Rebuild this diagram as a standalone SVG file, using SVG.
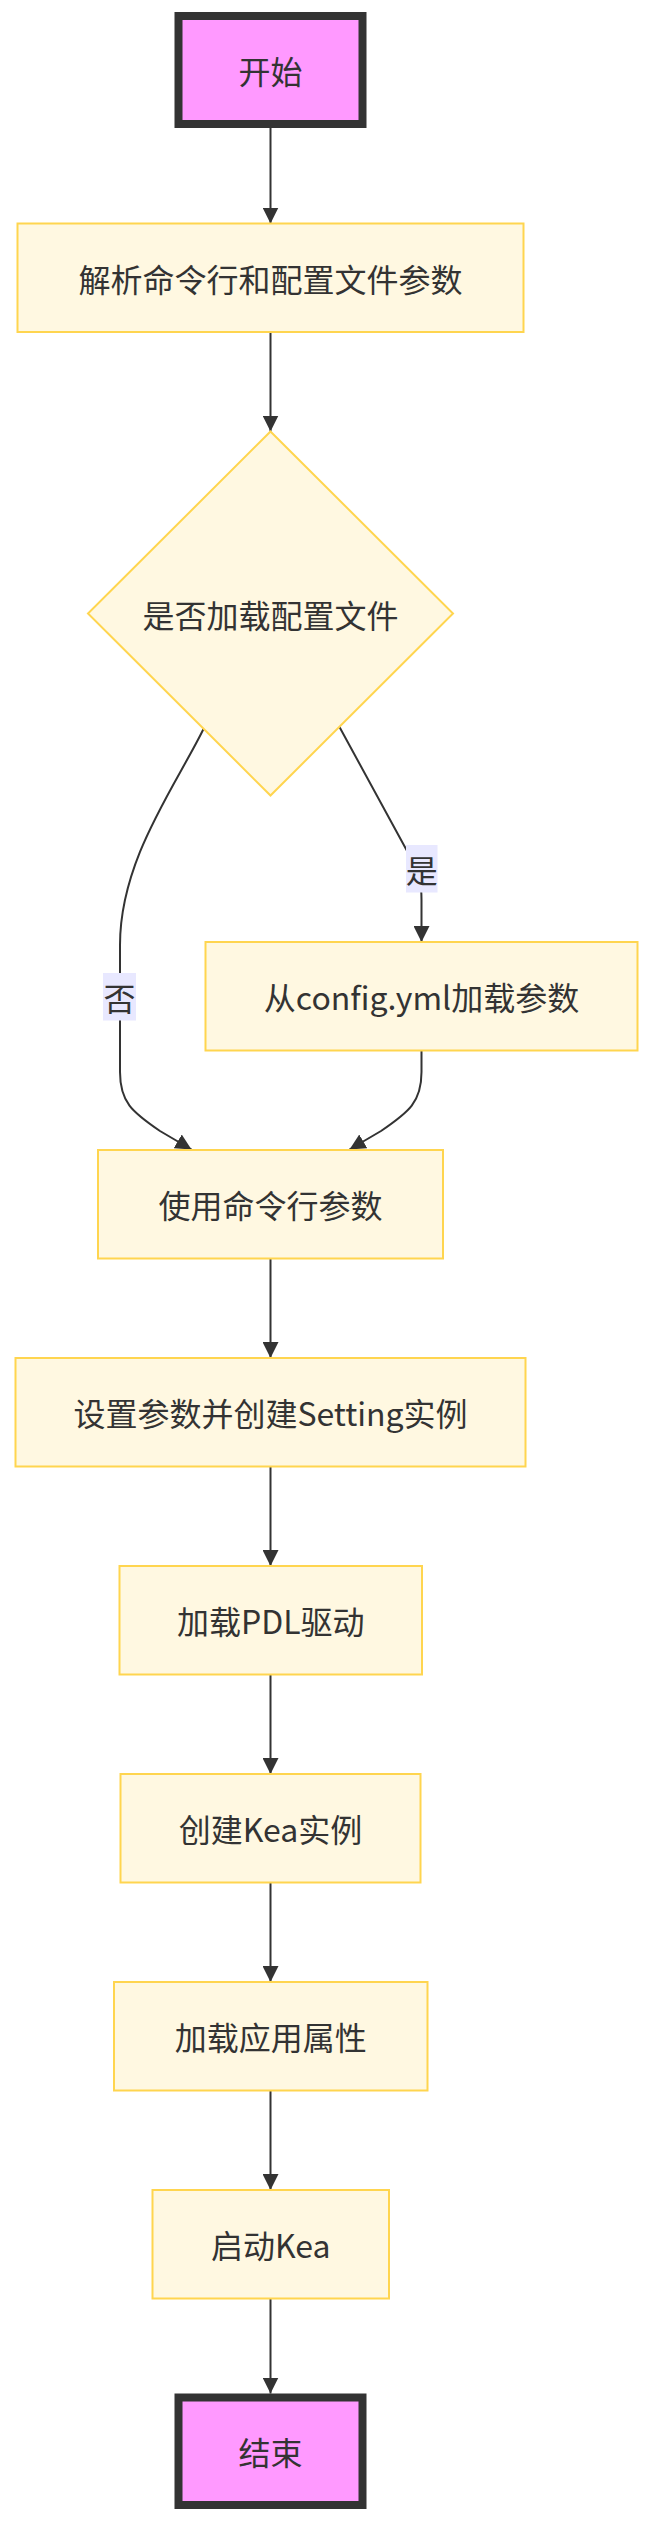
<svg xmlns="http://www.w3.org/2000/svg" width="652" height="2524" viewBox="0 0 652 2524">
<defs>
<style>
.node rect, .node polygon { fill: #fff8e1; stroke: #ffd54f; stroke-width: 2; }
.term rect { fill: #ff99ff; stroke: #333333; stroke-width: 8; }
text { font-family: "Noto Sans CJK SC", "Noto Sans", sans-serif; font-size: 32px; fill: #333333; text-anchor: middle; dominant-baseline: central; }
.edge { fill: none; stroke: #333333; stroke-width: 2; marker-end: url(#arrow); }
.lbl rect { fill: #e8e8ff; stroke: none; }
</style>
<marker id="arrow" viewBox="0 0 10 10" refX="10" refY="5" markerWidth="16" markerHeight="16" markerUnits="userSpaceOnUse" orient="auto">
<path d="M0,0 L10,5 L0,10 z" fill="#333333"/>
</marker>
</defs>
<rect width="652" height="2524" fill="#ffffff"/>
<g id="connectors">
<path class="edge" d="M270.5,128 L270.5,223.5"/>
<path class="edge" d="M270.5,332 L270.5,431.5"/>
<path class="edge" d="M203.5,729 C175,787 120,860 120,945 L120,1072 C120,1102 132,1112 160,1131 L191.5,1149.5"/>
<path class="edge" d="M339.5,727 C370,783 400,838 412,860 C420,875 421.5,885 421.5,900 L421.5,942"/>
<path class="edge" d="M421.5,1050.5 L421.5,1072 C421.5,1102 409,1112 381,1131 L349.5,1149.5"/>
<path class="edge" d="M270.5,1258.5 L270.5,1358"/>
<path class="edge" d="M270.5,1466.5 L270.5,1566"/>
<path class="edge" d="M270.5,1674.5 L270.5,1774"/>
<path class="edge" d="M270.5,1882.5 L270.5,1982"/>
<path class="edge" d="M270.5,2090.5 L270.5,2190"/>
<path class="edge" d="M270.5,2298.5 L270.5,2393.5"/>
<g id="label-no" class="lbl"><rect x="103" y="973" width="33" height="47.5"/><text x="119.5" y="997">否</text></g>
<g id="label-yes" class="lbl"><rect x="406" y="845" width="31.5" height="47.5"/><text x="421.75" y="869">是</text></g>
</g>
<g id="start" class="term"><rect x="178.5" y="16" width="184" height="108"/><text x="270.5" y="70">开始</text></g>
<g id="parse" class="node"><rect x="17.5" y="223.5" width="506" height="108.5"/><text x="270.5" y="277.75">解析命令行和配置文件参数</text></g>
<g id="decide" class="node"><polygon points="270.5,431.5 453,613.5 270.5,795.5 88,613.5"/><text x="270.5" y="613.5">是否加载配置文件</text></g>
<g id="loadcfg" class="node"><rect x="205.5" y="942" width="432" height="108.5"/><text x="421.5" y="996.25">从config.yml加载参数</text></g>
<g id="usecli" class="node"><rect x="98" y="1150" width="345" height="108.5"/><text x="270.5" y="1204.25">使用命令行参数</text></g>
<g id="setting" class="node"><rect x="15.5" y="1358" width="510" height="108.5"/><text x="270.5" y="1412.25">设置参数并创建Setting实例</text></g>
<g id="pdl" class="node"><rect x="119.5" y="1566" width="302.5" height="108.5"/><text x="270.75" y="1620.25">加载PDL驱动</text></g>
<g id="kea" class="node"><rect x="120.5" y="1774" width="300" height="108.5"/><text x="270.5" y="1828.25">创建Kea实例</text></g>
<g id="props" class="node"><rect x="114" y="1982" width="313.5" height="108.5"/><text x="270.75" y="2036.25">加载应用属性</text></g>
<g id="launch" class="node"><rect x="152.5" y="2190" width="236.5" height="108.5"/><text x="270.75" y="2244.25">启动Kea</text></g>
<g id="end" class="term"><rect x="178.5" y="2397.5" width="184" height="107.5"/><text x="270.5" y="2451.25">结束</text></g>
</svg>
